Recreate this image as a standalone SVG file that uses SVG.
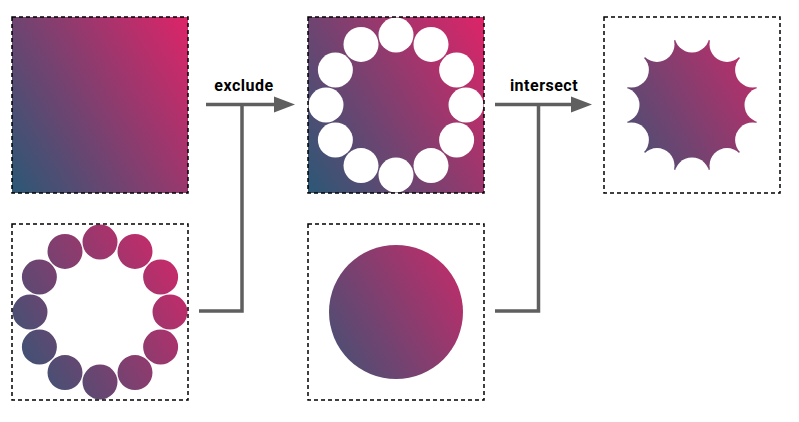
<svg xmlns="http://www.w3.org/2000/svg" xmlns:xlink="http://www.w3.org/1999/xlink" width="799" height="422" viewBox="0 0 799 422">
  <style>
    .frame { fill: none; stroke: #000; stroke-width: 1.5; stroke-dasharray: 4 3; }
    .grad { fill: url(#g); }
    .hole { fill: #fff; }
    .conn { fill: none; stroke: #5f5f5f; stroke-width: 3.5; stroke-linejoin: miter; }
    .head { fill: #5f5f5f; }
    .lbl { font-family: Roboto, "Liberation Sans", sans-serif; font-weight: bold; font-size: 16px; letter-spacing: 0.5px; fill: #000; text-anchor: middle; }
  </style>
  <defs>
    <linearGradient id="g" x1="-0.086" y1="0.859" x2="1.086" y2="0.141">
      <stop offset="0" stop-color="#2b5876"/>
      <stop offset="1" stop-color="#dd2468"/>
    </linearGradient>
    <clipPath id="ring">
      <circle cx="70" cy="0" r="17.5"/>
      <circle cx="60.62" cy="35" r="17.5"/>
      <circle cx="35" cy="60.62" r="17.5"/>
      <circle cx="0" cy="70" r="17.5"/>
      <circle cx="-35" cy="60.62" r="17.5"/>
      <circle cx="-60.62" cy="35" r="17.5"/>
      <circle cx="-70" cy="0" r="17.5"/>
      <circle cx="-60.62" cy="-35" r="17.5"/>
      <circle cx="-35" cy="-60.62" r="17.5"/>
      <circle cx="0" cy="-70" r="17.5"/>
      <circle cx="35" cy="-60.62" r="17.5"/>
      <circle cx="60.62" cy="-35" r="17.5"/>
    </clipPath>
    <clipPath id="disc">
      <circle cx="0" cy="0" r="67"/>
    </clipPath>
    <g id="ringShapes">
      <circle cx="70" cy="0" r="17.5"/>
      <circle cx="60.62" cy="35" r="17.5"/>
      <circle cx="35" cy="60.62" r="17.5"/>
      <circle cx="0" cy="70" r="17.5"/>
      <circle cx="-35" cy="60.62" r="17.5"/>
      <circle cx="-60.62" cy="35" r="17.5"/>
      <circle cx="-70" cy="0" r="17.5"/>
      <circle cx="-60.62" cy="-35" r="17.5"/>
      <circle cx="-35" cy="-60.62" r="17.5"/>
      <circle cx="0" cy="-70" r="17.5"/>
      <circle cx="35" cy="-60.62" r="17.5"/>
      <circle cx="60.62" cy="-35" r="17.5"/>
    </g>
    <mask id="notRing" maskUnits="userSpaceOnUse" x="-100" y="-100" width="200" height="200">
      <rect x="-100" y="-100" width="200" height="200" fill="#fff"/>
      <use xlink:href="#ringShapes" fill="#000"/>
    </mask>
  </defs>

  <g id="node-gradient-square" transform="translate(100,105)">
    <rect class="grad" x="-88" y="-88" width="176" height="176"/>
    <rect class="frame" x="-88" y="-88" width="176" height="176"/>
  </g>

  <g id="node-circle-ring" transform="translate(100,312)">
    <rect class="grad" x="-88" y="-88" width="176" height="176" clip-path="url(#ring)"/>
    <rect class="frame" x="-88" y="-88" width="176" height="176"/>
  </g>

  <g id="node-excluded" transform="translate(396,105)">
    <rect class="grad" x="-88" y="-88" width="176" height="176"/>
    <use xlink:href="#ringShapes" class="hole"/>
    <rect class="frame" x="-88" y="-88" width="176" height="176"/>
  </g>

  <g id="node-disc" transform="translate(396,312)">
    <rect class="grad" x="-88" y="-88" width="176" height="176" clip-path="url(#disc)"/>
    <rect class="frame" x="-88" y="-88" width="176" height="176"/>
  </g>

  <g id="node-intersected" transform="translate(692,105)">
    <g mask="url(#notRing)">
      <rect class="grad" x="-88" y="-88" width="176" height="176" clip-path="url(#disc)"/>
    </g>
    <rect class="frame" x="-88" y="-88" width="176" height="176"/>
  </g>

  <g id="connectors">
    <g id="conn-exclude">
      <path class="conn" d="M206,104.5 H276"/>
      <path class="conn" d="M199,311 H242 V104.5"/>
      <polygon class="head" points="274,96.5 295,104.5 274,112.5"/>
      <text class="lbl" x="244" y="91">exclude</text>
    </g>
    <g id="conn-intersect">
      <path class="conn" d="M495,104.5 H573"/>
      <path class="conn" d="M495,311 H538.5 V104.5"/>
      <polygon class="head" points="571,96.5 592,104.5 571,112.5"/>
      <text class="lbl" x="544" y="91">intersect</text>
    </g>
  </g>
</svg>
